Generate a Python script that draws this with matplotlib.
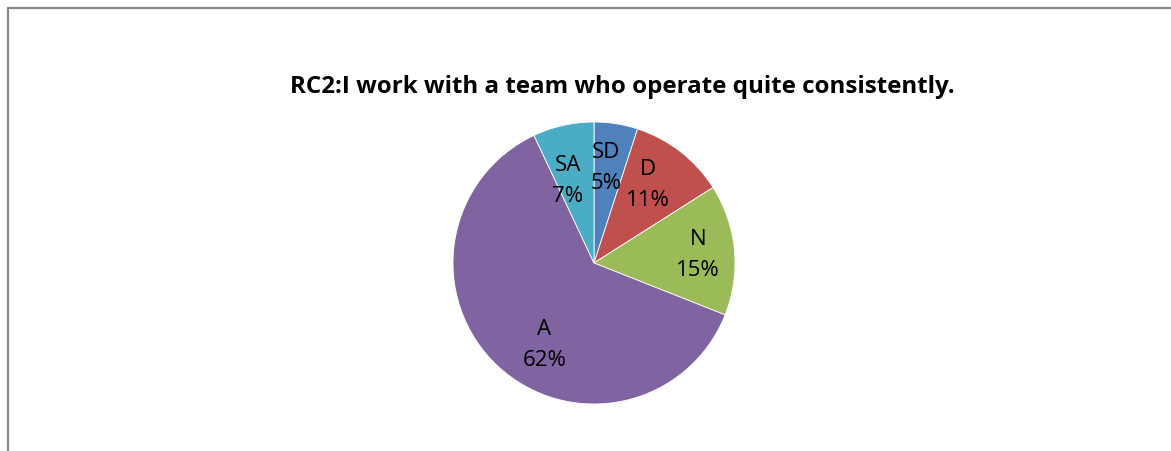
import matplotlib
matplotlib.use("Agg")
import matplotlib.pyplot as plt
from matplotlib.patches import Rectangle
import numpy as np

# Survey responses
categories = ["SD", "D", "N", "A", "SA"]
shares = [5, 11, 15, 62, 7]
colors = ["#4F81BD", "#C0504D", "#9BBB59", "#8064A2", "#4BACC6"]
title = "RC2:I work with a team who operate quite consistently."

# label placement: (radius fraction, angle nudge in degrees)
label_layout = {"SD": (0.68, 2), "D": (0.67, 3), "N": (0.74, -1),
                "A": (0.68, 12), "SA": (0.61, 5)}

W, H = 1171, 451
fig = plt.figure(figsize=(W / 100, H / 100), dpi=100)
fig.patch.set_facecolor("white")

# chart-area frame (only top and left edges fall inside the canvas)
fig.add_artist(Rectangle((7.5 / W, -0.1), 1.2, (H - 8.5) / H + 0.1,
                         transform=fig.transFigure, fill=False,
                         edgecolor="#8a8a8a", linewidth=1.6))

cx, cy, R = 594, H - 263, 141
half = 150
ax = fig.add_axes([(cx - half) / W, (cy - half) / H, 2 * half / W, 2 * half / H])
wedges, _ = ax.pie(shares, colors=colors, startangle=90, counterclock=False,
                   radius=1.0, wedgeprops=dict(edgecolor="white", linewidth=0.6))
lim = half / R
ax.set_xlim(-lim, lim)
ax.set_ylim(-lim, lim)
ax.set_aspect("equal", adjustable="box")
ax.axis("off")

for w, cat, val in zip(wedges, categories, shares):
    r, nudge = label_layout[cat]
    ang = np.deg2rad((w.theta1 + w.theta2) / 2 + nudge)
    ax.text(r * np.cos(ang), r * np.sin(ang), f"{cat}\n{val}%",
            ha="center", va="center", fontsize=16, family="Open Sans",
            color="black", linespacing=1.62)

fig.text(622 / W, 1 - 87 / H, title, ha="center", va="center",
         fontsize=17.4, fontweight="bold", family="Open Sans")

fig.savefig("out.png", dpi=100, facecolor="white")
